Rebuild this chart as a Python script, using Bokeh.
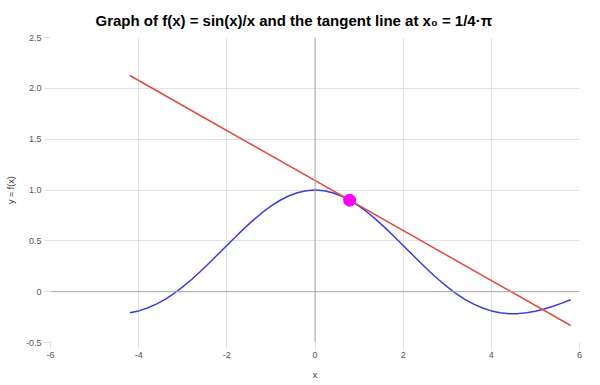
from bokeh.plotting import figure
from bokeh.models import Span, FixedTicker, Title
from bokeh.embed import file_html
from bokeh.resources import INLINE

curve_x = [-4.2, -4.0, -3.8, -3.6, -3.4, -3.2, -3.0, -2.8, -2.6, -2.4, -2.2, -2.0,
           -1.8, -1.6, -1.4, -1.2, -1.0, -0.8, -0.6, -0.4, -0.2, 0.0,
           0.2, 0.4, 0.6, 0.8, 1.0, 1.2, 1.4, 1.6, 1.8, 2.0, 2.2, 2.4, 2.6, 2.8,
           3.0, 3.2, 3.4, 3.6, 3.8, 4.0, 4.2, 4.4, 4.6, 4.8, 5.0, 5.2, 5.4, 5.6, 5.8]
curve_y = [-0.2075, -0.1892, -0.1610, -0.1229, -0.0752, -0.0182, 0.0470, 0.1196,
           0.1983, 0.2814, 0.3675, 0.4546, 0.5410, 0.6247, 0.7039, 0.7767, 0.8415,
           0.8967, 0.9411, 0.9735, 0.9933, 1.0,
           0.9933, 0.9735, 0.9411, 0.8967, 0.8415, 0.7767, 0.7039, 0.6247, 0.5410,
           0.4546, 0.3675, 0.2814, 0.1983, 0.1196, 0.0470, -0.0182, -0.0752, -0.1229,
           -0.1610, -0.1892, -0.2075, -0.2163, -0.2160, -0.2075, -0.1918, -0.1699,
           -0.1431, -0.1127, -0.0801]

tangent_x = [-4.2, 5.8]
tangent_y = [2.126, -0.333]

point_x = [0.785]
point_y = [0.900]

x_ticks = [-6, -4, -2, 0, 2, 4, 6]
x_tick_labels = ["-6", "-4", "-2", "0", "2", "4", "6"]
y_ticks = [-0.5, 0, 0.5, 1.0, 1.5, 2.0, 2.5]
y_tick_labels = ["-0.5", "0", "0.5", "1.0", "1.5", "2.0", "2.5"]

FONT = "Liberation Sans"

p = figure(width=600, height=385, x_range=(-6, 6), y_range=(-0.5, 2.5),
           output_backend="svg", toolbar_location=None,
           min_border_left=50, min_border_right=21, min_border_bottom=43, min_border_top=37)

p.title = Title(text="Graph of f(x) = sin(x)/x and the tangent line at x\u2080 = 1/4\u00b7\u03c0",
                align="left", offset=45, text_font=FONT, text_font_size="15px",
                text_font_style="bold", text_color="#000000", standoff=17)

p.outline_line_color = None
p.background_fill_color = "white"

for ax in (p.xaxis[0], p.yaxis[0]):
    ax.axis_line_color = None
    ax.major_tick_line_color = "#dddddd"
    ax.major_tick_out = 6
    ax.major_tick_in = 0
    ax.minor_tick_line_color = None
    ax.major_label_text_font = FONT
    ax.major_label_text_font_size = "9px"
    ax.major_label_text_color = "#555555"
    ax.axis_label_text_font = FONT
    ax.axis_label_text_font_size = "9px"
    ax.axis_label_text_font_style = "normal"
    ax.axis_label_text_color = "#333333"
    ax.major_label_standoff = 3

p.xaxis[0].ticker = FixedTicker(ticks=x_ticks)
p.yaxis[0].ticker = FixedTicker(ticks=y_ticks)
p.xaxis[0].major_label_overrides = dict(zip(x_ticks, x_tick_labels))
p.yaxis[0].major_label_overrides = dict(zip(y_ticks, y_tick_labels))
p.xaxis[0].axis_label = "x"
p.yaxis[0].axis_label = "y = f(x)"
p.xaxis[0].axis_label_standoff = 9
p.yaxis[0].axis_label_standoff = 7

p.xgrid.grid_line_color = "#e2e2e2"
p.ygrid.grid_line_color = "#e2e2e2"

p.add_layout(Span(location=0, dimension="height", line_color="#aaaaaa", line_width=1))
p.add_layout(Span(location=0, dimension="width", line_color="#aaaaaa", line_width=1))

p.line(curve_x, curve_y, line_color="#3b3be0", line_width=1.5)
p.line(tangent_x, tangent_y, line_color="#e04a3f", line_width=1.5)
p.scatter(point_x, point_y, size=12, fill_color="#ff00ff", line_color="#ff00ff")

open("out.html", "w").write(file_html(p, INLINE))
